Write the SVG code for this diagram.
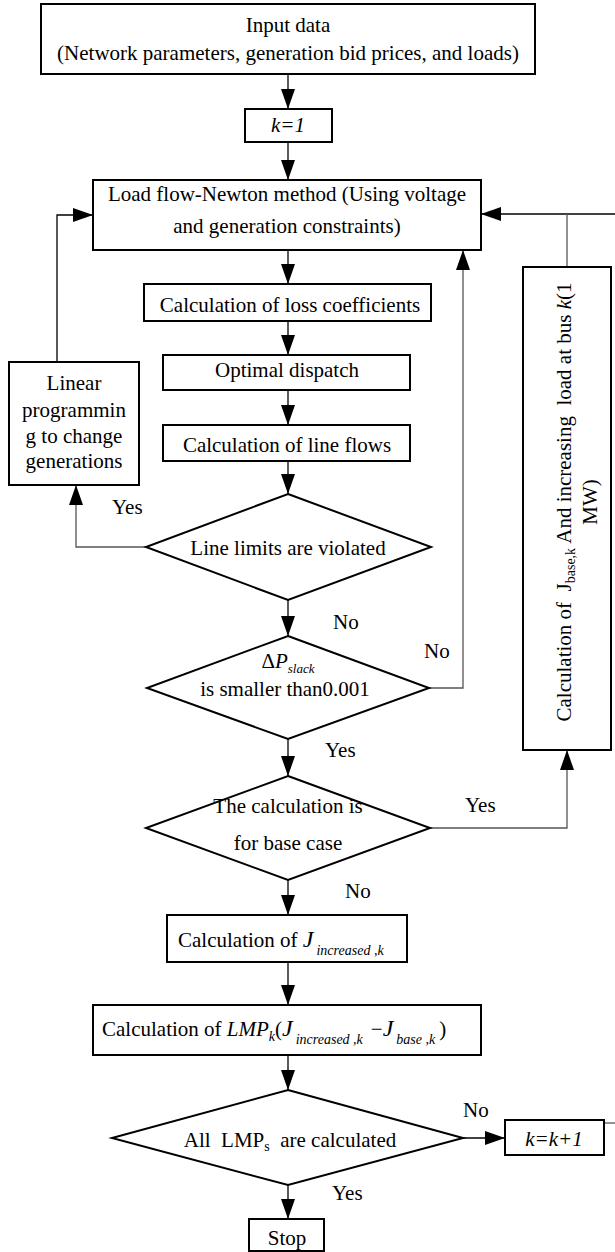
<svg xmlns="http://www.w3.org/2000/svg" width="615" height="1252" viewBox="0 0 615 1252">
<defs>
<marker id="ah" markerUnits="userSpaceOnUse" markerWidth="20" markerHeight="14" refX="20" refY="7" orient="auto">
<path d="M0,0 L20,7 L0,14 z" fill="#000"/>
</marker>
<style>
.box{fill:#fff;stroke:#000;stroke-width:2}
.c{fill:none;stroke:#000;stroke-width:1.3}
.g{fill:none;stroke:#555;stroke-width:1.3}
.m{text-anchor:middle}
.i{font-style:italic}
.sub{font-size:14px}
</style>
</defs>
<rect width="615" height="1252" fill="#fff"/>
<g font-family="'Liberation Serif', 'Times New Roman', 'DejaVu Serif', serif" font-size="21" fill="#000">

<g id="connectors">
<line class="c" x1="288" y1="74" x2="288" y2="109" marker-end="url(#ah)"/>
<line class="c" x1="288" y1="142" x2="288" y2="180" marker-end="url(#ah)"/>
<line class="c" x1="288" y1="250" x2="288" y2="284" marker-end="url(#ah)"/>
<line class="c" x1="288" y1="321" x2="288" y2="355" marker-end="url(#ah)"/>
<line class="c" x1="288" y1="390" x2="288" y2="425" marker-end="url(#ah)"/>
<line class="c" x1="288" y1="461" x2="288" y2="494" marker-end="url(#ah)"/>
<line class="c" x1="288" y1="600" x2="288" y2="636" marker-end="url(#ah)"/>
<line class="c" x1="288" y1="739" x2="288" y2="776" marker-end="url(#ah)"/>
<line class="c" x1="288" y1="880" x2="288" y2="915" marker-end="url(#ah)"/>
<line class="c" x1="288" y1="962" x2="288" y2="1005" marker-end="url(#ah)"/>
<line class="c" x1="288" y1="1055" x2="288" y2="1090" marker-end="url(#ah)"/>
<line class="c" x1="288" y1="1185" x2="288" y2="1219" marker-end="url(#ah)"/>
<line class="c" x1="463" y1="1138" x2="505" y2="1138" marker-end="url(#ah)"/>
<line class="g" x1="604" y1="1123" x2="615" y2="1123"/>
<line class="c" x1="615" y1="214" x2="481" y2="214" marker-end="url(#ah)"/>
<line class="g" x1="567" y1="267" x2="567" y2="214"/>
<polyline class="g" points="430,828 567,828 567,750" marker-end="url(#ah)"/>
<polyline class="g" points="429,688 463,688 463,250" marker-end="url(#ah)"/>
<polyline class="g" points="146,547 76,547 76,485" marker-end="url(#ah)"/>
<polyline class="c" points="57,362 57,215 93,215" marker-end="url(#ah)"/>
<text x="112" y="514">Yes</text>
<text x="333" y="629">No</text>
<text x="424" y="658">No</text>
<text x="325" y="757">Yes</text>
<text x="465" y="812">Yes</text>
<text x="345" y="898">No</text>
<text x="463" y="1117">No</text>
<text x="332" y="1200">Yes</text>
</g>

<g id="input">
<rect class="box" x="41" y="4" width="494" height="70"/>
<text class="m" x="288" y="32">Input data</text>
<text class="m" x="288" y="60">(Network parameters, generation bid prices, and loads)</text>
</g>

<g id="k1">
<rect class="box" x="245" y="109" width="87" height="33"/>
<text class="m i" x="288" y="132">k=1</text>
</g>

<g id="loadflow">
<rect class="box" x="93" y="180" width="388" height="70"/>
<text class="m" x="287" y="201">Load flow-Newton method (Using voltage</text>
<text class="m" x="287" y="233">and generation constraints)</text>
</g>

<g id="loss">
<rect class="box" x="144" y="284" width="287" height="37"/>
<text class="m" x="290" y="312">Calculation of loss coefficients</text>
</g>

<g id="dispatch">
<rect class="box" x="163" y="355" width="247" height="35"/>
<text class="m" x="287" y="377">Optimal dispatch</text>
</g>

<g id="lineflows">
<rect class="box" x="163" y="425" width="247" height="36"/>
<text class="m" x="287" y="452">Calculation of line flows</text>
</g>

<g id="linear">
<rect class="box" x="9" y="362" width="130" height="123"/>
<text class="m" x="74" y="390">Linear</text>
<text class="m" x="74" y="417">programmin</text>
<text class="m" x="74" y="443">g to change</text>
<text class="m" x="74" y="468">generations</text>
</g>

<g id="linelimits">
<polygon class="box" points="288,494 431,547 288,600 146,547"/>
<text class="m" x="288" y="555">Line limits are violated</text>
</g>

<g id="slack">
<polygon class="box" points="288,636 429,688 288,739 147,688"/>
<text class="m" x="288" y="668">Δ<tspan class="i">P</tspan><tspan class="i" font-size="13" dy="5">slack</tspan></text>
<text class="m" x="285" y="696">is smaller than0.001</text>
</g>

<g id="basecase">
<polygon class="box" points="288,776 430,828 288,880 146,828"/>
<text class="m" x="288" y="813">The calculation is</text>
<text class="m" x="288" y="850">for base case</text>
</g>

<g id="jbase">
<rect class="box" x="523" y="267" width="88" height="483"/>
<text class="m" transform="translate(567,502) rotate(-90)" x="0" y="4">Calculation of &#160;J<tspan class="sub" dy="4">base,k</tspan><tspan dy="-4"> And increasing &#160;load at bus </tspan><tspan class="i">k</tspan>(1</text>
<text class="m" transform="translate(567,502) rotate(-90)" x="0" y="30">MW)</text>
</g>

<g id="jinc">
<rect class="box" x="167" y="915" width="240" height="47"/>
<text x="178" y="947">Calculation of <tspan class="i" font-size="24">J</tspan><tspan class="i sub" dx="3" dy="8">increased ,k</tspan></text>
</g>

<g id="lmp">
<rect class="box" x="93" y="1005" width="388" height="50"/>
<text x="102" y="1036">Calculation of <tspan class="i">LMP</tspan><tspan class="i sub" dy="5">k</tspan><tspan dy="-5">(</tspan><tspan class="i" font-size="24">J</tspan><tspan class="i sub" dx="3" dy="8">increased ,k</tspan><tspan dx="8" dy="-8">−</tspan><tspan class="i" font-size="24">J</tspan><tspan class="i sub" dx="3" dy="8">base ,k</tspan><tspan dx="4" dy="-8">)</tspan></text>
</g>

<g id="alllmp">
<polygon class="box" points="288,1090 463,1138 288,1185 112,1138"/>
<text class="m" x="290" y="1147">All &#160;LMP<tspan class="sub" dy="4">s</tspan><tspan dy="-4"> &#160;are calculated</tspan></text>
</g>

<g id="kinc">
<rect class="box" x="505" y="1120" width="99" height="35"/>
<text class="m i" x="554" y="1146">k=k+1</text>
</g>

<g id="stop">
<rect class="box" x="249" y="1219" width="75" height="32"/>
<text class="m" x="287" y="1245">Stop</text>
</g>
</g>
</svg>
